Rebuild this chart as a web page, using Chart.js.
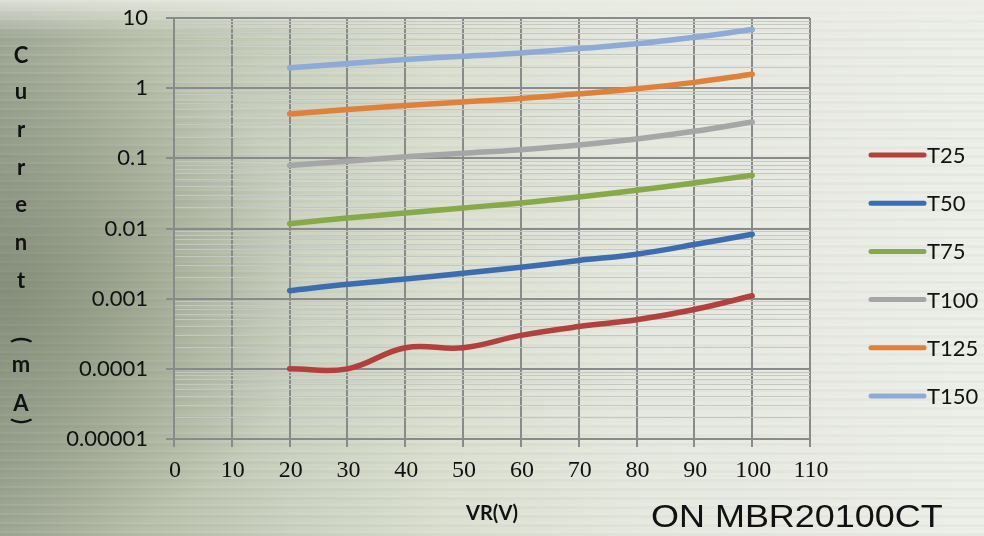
<!DOCTYPE html>
<html>
<head>
<meta charset="utf-8">
<script src="https://cdn.jsdelivr.net/npm/chart.js@4"></script>
<style>
  html, body { margin: 0; padding: 0; }
  #wrap {
    width: 984px; height: 536px; position: relative; overflow: hidden;
    background:
      linear-gradient(180deg, rgba(236,238,230,0.8) 0px, rgba(236,238,230,0) 36px),
      radial-gradient(ellipse 300px 260px at 10px 290px, rgba(112,122,100,0.55), rgba(112,122,100,0)),
      repeating-linear-gradient(180deg, rgba(255,255,255,0.07) 0px, rgba(255,255,255,0.07) 2px, rgba(0,0,0,0.025) 2px, rgba(0,0,0,0.025) 5px, rgba(0,0,0,0) 5px, rgba(0,0,0,0) 9px),
      linear-gradient(90deg, #a0a896 0%, #b8bfaa 15%, #ccd2c1 30%, #dadfd0 45%, #e5e8de 65%, #eceee8 100%);
  }
  canvas { position: absolute; left: 0; top: 0; }
</style>
</head>
<body>
<div id="wrap"><canvas id="chart" width="984" height="536"></canvas></div>
<script>
// reverse current vs reverse voltage, one series per temperature
const voltages = [20, 30, 40, 50, 60, 70, 80, 90, 100];
const t25  = [0.0001, 0.0001, 0.0002, 0.0002, 0.0003, 0.0004, 0.0005, 0.0007, 0.0011];
const t50  = [0.0013, 0.0016, 0.0019, 0.0023, 0.0028, 0.0035, 0.0043, 0.0059, 0.0083];
const t75  = [0.0117, 0.0141, 0.0166, 0.0196, 0.0231, 0.0281, 0.035, 0.0446, 0.0573];
const t100 = [0.079, 0.091, 0.105, 0.118, 0.133, 0.155, 0.189, 0.243, 0.33];
const t125 = [0.43, 0.495, 0.565, 0.637, 0.71, 0.83, 0.98, 1.21, 1.58];
const t150 = [1.95, 2.24, 2.56, 2.85, 3.18, 3.67, 4.28, 5.32, 6.85];

const seriesNames = ["T25", "T50", "T75", "T100", "T125", "T150"];
const seriesColors = ["#b2413e", "#3c6db0", "#87a948", "#a6a6a6", "#e0813a", "#8eaad6"];

const yDecades = [0.00001, 0.0001, 0.001, 0.01, 0.1, 1, 10];
const yTickLabels = ["0.00001", "0.0001", "0.001", "0.01", "0.1", "1", "10"];
const minorSteps = [2, 3, 4, 5, 6, 7, 8, 9];

const MAJOR = "#8a8a8a";
const MINOR = "#c5c7c2";

function isDecade(v) {
  const l = Math.log10(v);
  return Math.abs(l - Math.round(l)) < 1e-9;
}

const allSeries = [t25, t50, t75, t100, t125, t150];
const datasets = allSeries.map((vals, i) => ({
  label: seriesNames[i],
  data: vals.map((v, j) => ({ x: voltages[j], y: v })),
  borderColor: seriesColors[i],
  backgroundColor: seriesColors[i],
  borderWidth: 5.5,
  pointRadius: 0,
  tension: 0.4,
  borderCapStyle: "round",
  fill: false
}));

const textPlugin = {
  id: "texts",
  afterDraw(chart) {
    const ctx = chart.ctx;
    ctx.save();
    ctx.fillStyle = "#111";
    ctx.textAlign = "center";
    ctx.textBaseline = "middle";

    // x tick labels (serif, like the original sheet)
    const xs = chart.scales.x;
    ctx.font = "24px 'Liberation Serif', serif";
    xs.ticks.forEach((t) => {
      ctx.fillText(String(t.value), xs.getPixelForValue(t.value) + 1, 471);
    });

    // stacked y title
    ctx.font = "bold 22px Lato";
    const title = [["C", 56], ["u", 92], ["r", 130], ["r", 168], ["e", 205], ["n", 243], ["t", 281],
                   ["(", 340], ["m", 365], ["A", 404], [")", 421]];
    title.forEach(([ch, y]) => {
      if (ch === "(" || ch === ")") {
        ctx.save();
        ctx.translate(21, y);
        ctx.rotate(Math.PI / 2);
        ctx.fillText(ch, 0, 0);
        ctx.restore();
      } else {
        ctx.fillText(ch, 21, y);
      }
    });

    // x title
    ctx.font = "bold 20px Lato";
    ctx.fillText("VR(V)", 492, 514);

    // part number
    ctx.save();
    ctx.font = "31px 'Liberation Sans'";
    ctx.textAlign = "left";
    ctx.textBaseline = "alphabetic";
    ctx.translate(651, 527);
    ctx.scale(1.16, 1);
    ctx.fillText("ON MBR20100CT", 0, 0);
    ctx.restore();

    // legend
    ctx.font = "22px Lato";
    ctx.textAlign = "left";
    chart.data.datasets.forEach((ds, i) => {
      const y = 155 + i * 48.2;
      ctx.strokeStyle = ds.borderColor;
      ctx.lineWidth = 5;
      ctx.lineCap = "round";
      ctx.beginPath();
      ctx.moveTo(871, y);
      ctx.lineTo(924, y);
      ctx.stroke();
      ctx.fillText(ds.label, 927, y + 1);
    });
    ctx.restore();
  }
};

new Chart(document.getElementById("chart"), {
  type: "line",
  data: { datasets: datasets },
  options: {
    responsive: false,
    animation: false,
    layout: { padding: { left: 0, right: 174, top: 18, bottom: 0 } },
    plugins: { legend: { display: false }, tooltip: { enabled: false } },
    scales: {
      x: {
        type: "linear",
        min: 0,
        max: 110,
        afterFit: (scale) => { scale.height = 97; },
        ticks: { stepSize: 10, display: false },
        grid: { color: MAJOR, lineWidth: 2, tickLength: 8, tickColor: MAJOR },
        border: { color: MAJOR, width: 2 }
      },
      y: {
        type: "logarithmic",
        min: 0.00001,
        max: 10,
        afterFit: (scale) => {
          scale.width = 174;
          scale.paddingTop = 0;
          scale.paddingBottom = 0;
        },
        afterBuildTicks: (scale) => {
          const t = [];
          yDecades.forEach((d, i) => {
            t.push({ value: d });
            if (i < yDecades.length - 1) minorSteps.forEach((m) => t.push({ value: d * m }));
          });
          scale.ticks = t;
        },
        ticks: {
          autoSkip: false,
          color: "#111",
          padding: 18,
          font: { family: "Lato", size: 22 },
          callback: (v) => {
            const k = yDecades.findIndex((d) => Math.abs(d - v) / d < 1e-6);
            return k >= 0 ? yTickLabels[k] : "";
          }
        },
        grid: {
          color: (c) => (c.tick && isDecade(c.tick.value) ? MAJOR : MINOR),
          lineWidth: (c) => (c.tick && isDecade(c.tick.value) ? 2 : 1),
          tickColor: (c) => (c.tick && isDecade(c.tick.value) ? MAJOR : "rgba(0,0,0,0)"),
          tickLength: 8
        },
        border: { color: MAJOR, width: 2 }
      }
    }
  },
  plugins: [textPlugin]
});
</script>
</body>
</html>
